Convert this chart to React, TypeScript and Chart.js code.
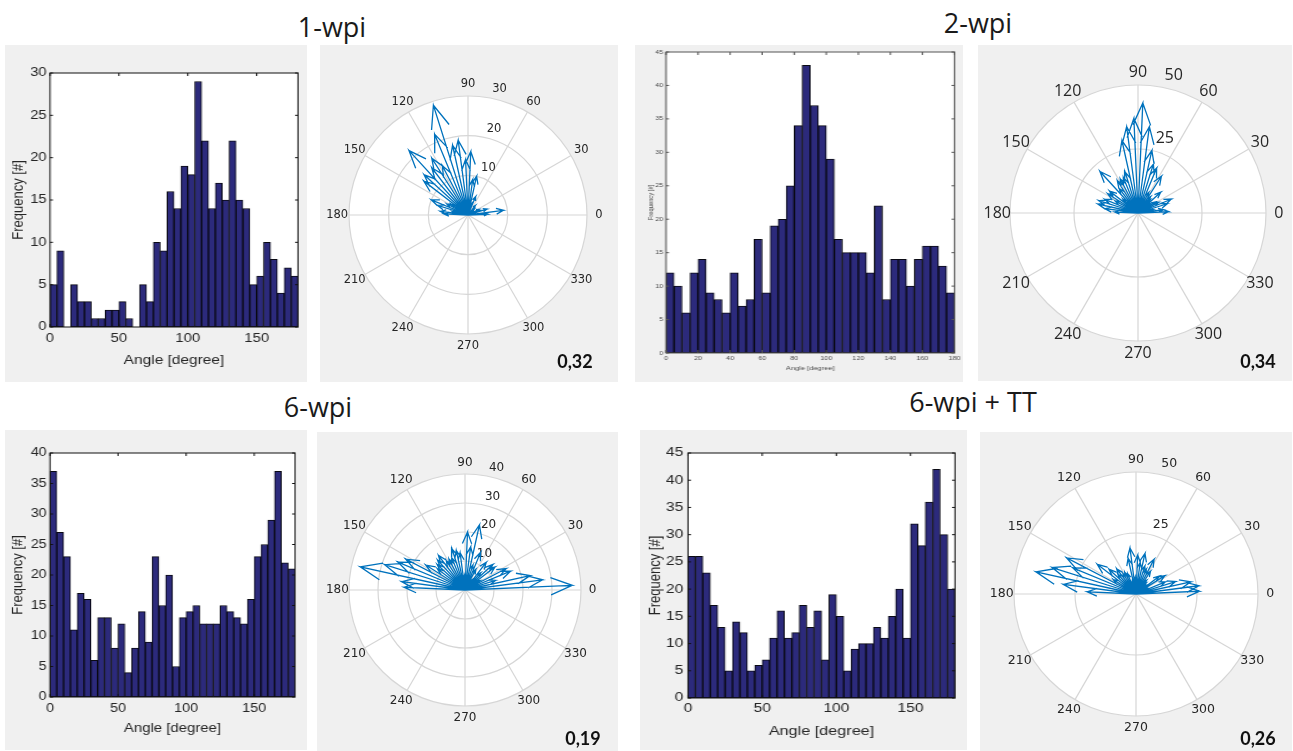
import React, { useEffect, useRef } from 'react';
import { Chart, registerables } from 'chart.js';

Chart.register(...registerables);

// ---------- data ----------
// centres of the 5-degree histogram bins (0..180)
const binCenters = [
  2.5, 7.5, 12.5, 17.5, 22.5, 27.5, 32.5, 37.5, 42.5, 47.5, 52.5, 57.5,
  62.5, 67.5, 72.5, 77.5, 82.5, 87.5, 92.5, 97.5, 102.5, 107.5, 112.5, 117.5,
  122.5, 127.5, 132.5, 137.5, 142.5, 147.5, 152.5, 157.5, 162.5, 167.5, 172.5, 177.5,
];

const wpi1Counts = [5, 9, 0, 5, 3, 3, 1, 1, 2, 2, 3, 1, 0, 5, 3, 10, 9, 16, 14, 19, 18, 29, 22, 14, 17, 15, 22, 15, 14, 5, 6, 10, 8, 4, 7, 6];
const wpi2Counts = [12, 10, 6, 12, 14, 9, 8, 6, 12, 7, 8, 17, 9, 19, 20, 25, 34, 43, 37, 34, 29, 17, 15, 15, 15, 12, 22, 8, 14, 14, 10, 14, 16, 16, 13, 9];
const wpi6Counts = [37, 27, 23, 11, 17, 16, 6, 13, 13, 8, 12, 4, 8, 14, 9, 23, 15, 20, 5, 13, 14, 15, 12, 12, 12, 15, 14, 13, 12, 16, 23, 25, 29, 37, 22, 21];
const wpi6ttCounts = [26, 26, 23, 17, 13, 5, 14, 12, 5, 6, 7, 11, 16, 11, 12, 17, 13, 16, 7, 19, 15, 5, 9, 10, 10, 13, 11, 15, 20, 11, 32, 28, 36, 42, 30, 20];

const histXTicksMain = [0, 50, 100, 150];
const histXTicks2wpi = [0, 20, 40, 60, 80, 100, 120, 140, 160, 180];
const yTicks30 = [0, 5, 10, 15, 20, 25, 30];
const yTicks40 = [0, 5, 10, 15, 20, 25, 30, 35, 40];
const yTicks45 = [0, 5, 10, 15, 20, 25, 30, 35, 40, 45];

const compassAngleLabels = [0, 30, 60, 90, 120, 150, 180, 210, 240, 270, 300, 330];
const compassSpokes = [0, 30, 60, 90, 120, 150];
const rings1wpi = [10, 20, 30];
const rings2wpi = [25, 50];
const rings6wpi = [10, 20, 30, 40];
const rings6wpiTT = [25, 50];

const panelTitles = ['1-wpi', '2-wpi', '6-wpi', '6-wpi + TT'];
const panelScores = ['0,32', '0,34', '0,19', '0,26'];

// ---------- styles ----------
const PANEL_BG = '#f0f0f0';
const BAR_FILL = '#2c2a7c';
const BAR_EDGE = '#0a0a14';
const ARROW = '#0072BD';
const GRID = '#d6d6d6';
const TEXT = '#262626';
const SANS = '"Liberation Sans", Arial, Helvetica, sans-serif';

// ---------- plugins ----------
const matlabAxesPlugin = {
  id: 'matlabAxes',
  beforeDatasetsDraw(chart: any) {
    const { ctx, chartArea: ca } = chart;
    ctx.save();
    ctx.fillStyle = '#ffffff';
    ctx.fillRect(ca.left, ca.top, ca.right - ca.left, ca.bottom - ca.top);
    ctx.restore();
  },
  afterDatasetsDraw(chart: any, _a: any, o: any) {
    const { ctx, chartArea: ca } = chart;
    const xs = chart.scales.x;
    const ys = chart.scales.y;
    ctx.save();
    ctx.strokeStyle = o.color;
    ctx.lineWidth = 1;
    ctx.strokeRect(ca.left, ca.top, ca.right - ca.left, ca.bottom - ca.top);
    ctx.beginPath();
    xs.ticks.forEach((t: any) => {
      const p = xs.getPixelForValue(t.value);
      ctx.moveTo(p, ca.bottom);
      ctx.lineTo(p, ca.bottom - o.tickLen);
      ctx.moveTo(p, ca.top);
      ctx.lineTo(p, ca.top + o.tickLen);
    });
    ys.ticks.forEach((t: any) => {
      const p = ys.getPixelForValue(t.value);
      ctx.moveTo(ca.left, p);
      ctx.lineTo(ca.left + o.tickLen / o.sx, p);
      ctx.moveTo(ca.right, p);
      ctx.lineTo(ca.right - o.tickLen / o.sx, p);
    });
    ctx.stroke();
    ctx.restore();
  },
};

const polarGridPlugin = {
  id: 'polarGrid',
  beforeDatasetsDraw(chart: any, _a: any, o: any) {
    const { ctx } = chart;
    const xs = chart.scales.x;
    const ys = chart.scales.y;
    const P = (r: number, deg: number) => {
      const t = (deg * Math.PI) / 180;
      return [xs.getPixelForValue(r * Math.cos(t)), ys.getPixelForValue(r * Math.sin(t))];
    };
    const [cx, cy] = P(0, 0);
    const rPix = (r: number) => xs.getPixelForValue(r) - cx;
    ctx.save();
    ctx.fillStyle = '#ffffff';
    ctx.beginPath();
    ctx.arc(cx, cy, rPix(o.rmax), 0, Math.PI * 2);
    ctx.fill();
    ctx.strokeStyle = GRID;
    ctx.lineWidth = 1.2;
    o.rings.forEach((r: number) => {
      ctx.beginPath();
      ctx.arc(cx, cy, rPix(r), 0, Math.PI * 2);
      ctx.stroke();
    });
    compassSpokes.forEach((a: number) => {
      const [x1, y1] = P(o.rmax, a);
      const [x2, y2] = P(o.rmax, a + 180);
      ctx.beginPath();
      ctx.moveTo(x1, y1);
      ctx.lineTo(x2, y2);
      ctx.stroke();
    });
    ctx.fillStyle = TEXT;
    ctx.font = o.labelFont;
    ctx.textAlign = 'center';
    ctx.textBaseline = 'middle';
    compassAngleLabels.forEach((a: number) => {
      const [x, y] = P(1.1 * o.rmax, a);
      ctx.fillText(String(a), x, y);
    });
    ctx.textAlign = 'left';
    ctx.textBaseline = 'bottom';
    o.rings.forEach((r: number) => {
      const [x, y] = P(r + o.rinc / 20, 82);
      ctx.fillText('  ' + r, x, y);
    });
    ctx.restore();
  },
};

// ---------- config builders ----------
function histConfig(s: any) {
  const tickFont = { family: SANS, size: s.tickFont };
  const titleFont = { family: SANS, size: s.titleFont };
  return {
    type: 'bar',
    data: {
      datasets: [
        {
          data: binCenters.map((x, i) => ({ x, y: s.counts[i] })),
          backgroundColor: BAR_FILL,
          borderColor: BAR_EDGE,
          borderWidth: s.barEdge,
          borderSkipped: false,
          barPercentage: 1,
          categoryPercentage: 1,
        },
      ],
    },
    options: {
      animation: false,
      responsive: false,
      events: [],
      layout: {
        padding: { left: 0, top: s.plot.t - s.box.t, right: (s.box.r - s.plot.r) / s.sx, bottom: 0 },
      },
      plugins: {
        legend: { display: false },
        tooltip: { enabled: false },
        matlabAxes: { color: s.frameColor, tickLen: s.tickLen, sx: s.sx },
      },
      scales: {
        x: {
          type: 'linear',
          min: 0,
          max: 180,
          offset: false,
          grid: { display: false, drawTicks: false },
          border: { display: false },
          afterBuildTicks: (ax: any) => {
            ax.ticks = s.xTicks.map((v: number) => ({ value: v }));
          },
          afterFit: (ax: any) => {
            ax.height = s.box.b - s.plot.b;
          },
          ticks: { autoSkip: false, maxRotation: 0, minRotation: 0, padding: s.xTickPad, color: s.textColor, font: tickFont },
          title: { display: true, text: 'Angle [degree]', color: s.textColor, font: titleFont, padding: { top: 0, bottom: s.xTitlePad } },
        },
        y: {
          type: 'linear',
          min: 0,
          max: s.yMax,
          grid: { display: false, drawTicks: false },
          border: { display: false },
          afterBuildTicks: (ax: any) => {
            ax.ticks = s.yTicks.map((v: number) => ({ value: v }));
          },
          afterFit: (ax: any) => {
            ax.width = (s.plot.l - s.box.l) / s.sx;
          },
          ticks: { autoSkip: false, padding: s.yTickPad, color: s.textColor, font: tickFont },
          title: { display: true, text: 'Frequency [#]', color: s.textColor, font: titleFont, padding: { top: s.yTitlePad, bottom: 0 } },
        },
      },
    },
    plugins: [matlabAxesPlugin],
  };
}

function polarConfig(s: any) {
  const W = s.box.r - s.box.l;
  const H = s.box.b - s.box.t;
  const ppu = s.R / s.rmax;
  const cxl = s.cx - s.box.l;
  const cyl = s.cy - s.box.t;
  const pts: any[] = [];
  s.counts.forEach((v: number, i: number) => {
    if (!v) return;
    const t = (binCenters[i] * Math.PI) / 180;
    const c = Math.cos(t);
    const sn = Math.sin(t);
    const pt = (a: number, b: number) => ({ x: v * (a * c - b * sn), y: v * (a * sn + b * c) });
    pts.push(pt(0, 0), pt(1, 0), pt(0.8, 0.08), pt(1, 0), pt(0.8, -0.08), { x: NaN, y: NaN });
  });
  return {
    type: 'scatter',
    data: {
      datasets: [
        {
          data: pts,
          showLine: true,
          spanGaps: false,
          borderColor: ARROW,
          borderWidth: 1.3,
          pointRadius: 0,
          tension: 0,
        },
      ],
    },
    options: {
      animation: false,
      responsive: false,
      events: [],
      layout: { padding: 0 },
      plugins: {
        legend: { display: false },
        tooltip: { enabled: false },
        polarGrid: { rmax: s.rmax, rinc: s.rinc, rings: s.rings, labelFont: s.labelFont },
      },
      scales: {
        x: { type: 'linear', display: false, min: -cxl / ppu, max: (W - cxl) / ppu },
        y: { type: 'linear', display: false, min: -(H - cyl) / ppu, max: cyl / ppu },
      },
    },
    plugins: [polarGridPlugin],
  };
}

// ---------- panel specs ----------
const histSpecs = [
  {
    box: { l: 5, t: 45, r: 307, b: 382 }, plot: { l: 50, t: 73, r: 298, b: 327 }, sx: 1.19,
    counts: wpi1Counts, xTicks: histXTicksMain, yTicks: yTicks30, yMax: 30,
    tickFont: 12.5, titleFont: 13, xTickPad: 4.5, yTickPad: 2.8, xTitlePad: 14.2, yTitlePad: 3.4,
    textColor: TEXT, frameColor: '#111111', tickLen: 3, barEdge: 1,
  },
  {
    box: { l: 635, t: 45, r: 963, b: 382 }, plot: { l: 666, t: 52, r: 956, b: 353 }, sx: 1.29,
    counts: wpi2Counts, xTicks: histXTicks2wpi, yTicks: yTicks45, yMax: 45,
    tickFont: 5.5, titleFont: 5.8, xTickPad: 2, yTickPad: 2.1, xTitlePad: 10.2, yTitlePad: 8.7,
    textColor: '#4a4a4a', frameColor: '#555555', tickLen: 3, barEdge: 1,
  },
  {
    box: { l: 5, t: 430, r: 307, b: 750 }, plot: { l: 50, t: 453, r: 295, b: 697 }, sx: 1.15,
    counts: wpi6Counts, xTicks: histXTicksMain, yTicks: yTicks40, yMax: 40,
    tickFont: 12.5, titleFont: 13, xTickPad: 3.8, yTickPad: 2.9, xTitlePad: 13.9, yTitlePad: 3.8,
    textColor: TEXT, frameColor: '#111111', tickLen: 3, barEdge: 1,
  },
  {
    box: { l: 640, t: 430, r: 967, b: 750 }, plot: { l: 688, t: 453, r: 955, b: 698 }, sx: 1.25,
    counts: wpi6ttCounts, xTicks: histXTicksMain, yTicks: yTicks45, yMax: 45,
    tickFont: 12.5, titleFont: 13, xTickPad: 2.8, yTickPad: 3.8, xTitlePad: 10.5, yTitlePad: 4.2,
    textColor: TEXT, frameColor: '#111111', tickLen: 3, barEdge: 1,
  },
];

const polarSpecs = [
  { box: { l: 320, t: 45, r: 618, b: 382 }, cx: 468, cy: 215, R: 119, rmax: 30, rinc: 10, rings: rings1wpi, counts: wpi1Counts, labelFont: '11.5px "DejaVu Sans"' },
  { box: { l: 978, t: 45, r: 1292, b: 381 }, cx: 1138, cy: 213, R: 128, rmax: 50, rinc: 25, rings: rings2wpi, counts: wpi2Counts, labelFont: '16px "Open Sans"' },
  { box: { l: 317, t: 432, r: 618, b: 751 }, cx: 465, cy: 590, R: 116, rmax: 40, rinc: 10, rings: rings6wpi, counts: wpi6Counts, labelFont: '12px "DejaVu Sans"' },
  { box: { l: 980, t: 432, r: 1292, b: 751 }, cx: 1136, cy: 594, R: 122, rmax: 50, rinc: 25, rings: rings6wpiTT, counts: wpi6ttCounts, labelFont: '12.5px "DejaVu Sans"' },
];

const titlePos = [
  { cx: 332, top: 13 },
  { cx: 978, top: 9 },
  { cx: 318, top: 393 },
  { cx: 973, top: 388 },
];
const scorePos = [
  { cx: 575, top: 352 },
  { cx: 1258, top: 352 },
  { cx: 583, top: 729 },
  { cx: 1258, top: 729 },
];

// ---------- components ----------
function ChartPanel({ box, sx, build }: any) {
  const ref = useRef<HTMLCanvasElement>(null);
  const W = box.r - box.l;
  const H = box.b - box.t;
  const wl = Math.round(W / sx);
  useEffect(() => {
    const chart = new Chart(ref.current as HTMLCanvasElement, build() as any);
    return () => chart.destroy();
  }, []);
  return (
    <div style={{ position: 'absolute', left: box.l, top: box.t, width: W, height: H, background: PANEL_BG, overflow: 'hidden' }}>
      <canvas
        ref={ref}
        width={wl}
        height={H}
        style={{ display: 'block', width: wl, height: H, transform: `scaleX(${W / wl})`, transformOrigin: '0 0' }}
      />
    </div>
  );
}

export default function App() {
  return (
    <div style={{ position: 'absolute', left: 0, top: 0, width: 1293, height: 751, background: '#ffffff', overflow: 'hidden' }}>
      {histSpecs.map((s, i) => (
        <ChartPanel key={'h' + i} box={s.box} sx={s.sx} build={() => histConfig({ ...s, sx: (s.box.r - s.box.l) / Math.round((s.box.r - s.box.l) / s.sx) })} />
      ))}
      {polarSpecs.map((s, i) => (
        <ChartPanel key={'p' + i} box={s.box} sx={1} build={() => polarConfig(s)} />
      ))}
      {panelTitles.map((t, i) => (
        <div
          key={'t' + i}
          style={{
            position: 'absolute', left: titlePos[i].cx - 150, width: 300, top: titlePos[i].top,
            textAlign: 'center', fontFamily: '"Open Sans", sans-serif', fontSize: 27, lineHeight: '27px',
            color: '#1a1a1a', whiteSpace: 'nowrap',
          }}
        >
          {t}
        </div>
      ))}
      {panelScores.map((t, i) => (
        <div
          key={'s' + i}
          style={{
            position: 'absolute', left: scorePos[i].cx - 50, width: 100, top: scorePos[i].top,
            textAlign: 'center', fontFamily: 'Lato, sans-serif', fontWeight: 700, fontSize: 18, lineHeight: '18px',
            color: '#111111', whiteSpace: 'nowrap',
          }}
        >
          {t}
        </div>
      ))}
    </div>
  );
}
